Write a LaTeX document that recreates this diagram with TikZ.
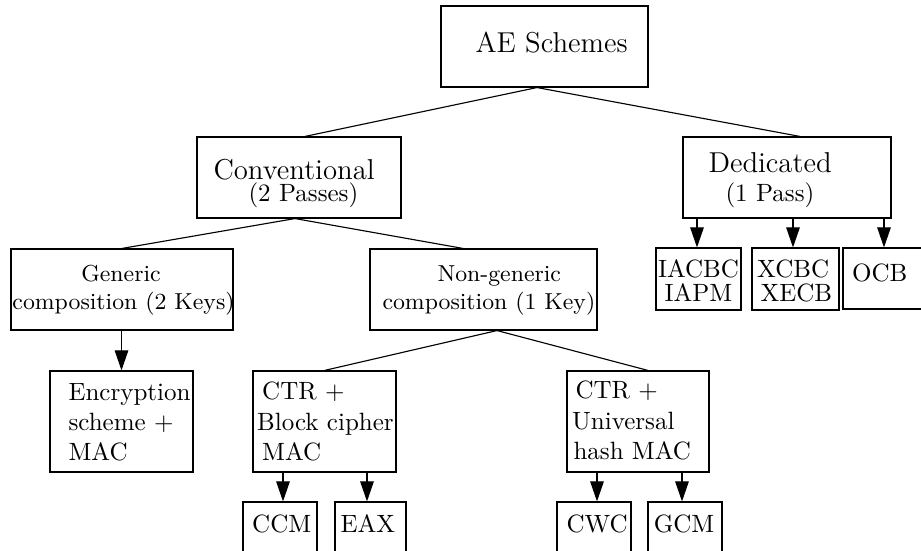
\documentclass[tikz,border=0pt]{standalone}
\usetikzlibrary{arrows.meta,fit}
\begin{document}
\begin{tikzpicture}[x=0.4pt,y=-0.4pt,
  bx/.style={draw, inner sep=0pt, line width=0.45pt},
  tx/.style={inner sep=0pt, anchor=base west, font=\fontsize{10}{12}\selectfont},
  txc/.style={inner sep=0pt, anchor=base, font=\fontsize{10}{12}\selectfont},
  big/.style={font=\fontsize{11.5}{14}\selectfont},
  sml/.style={font=\fontsize{9.25}{11}\selectfont},
  arr/.style={line width=0.45pt, -{Triangle[length=8pt,width=5.4pt]}},
  ln/.style={line width=0.45pt}]
\useasboundingbox (0,0) rectangle (921,551);
\clip (0,0) rectangle (921,551);
% boxes
\node[bx, fit={(441,6)(648,87)}] (ae) {};
\node[bx, fit={(197,137)(401,218)}] (conv) {};
\node[bx, fit={(683,137)(891,218)}] (ded) {};
\node[bx, fit={(11,249)(233,330)}] (gen) {};
\node[bx, fit={(370,249)(597,330)}] (ngen) {};
\node[bx, fit={(656,248)(741,310)}] (iacbc) {};
\node[bx, fit={(752,248)(839,310)}] (xcbc) {};
\node[bx, fit={(843,248)(925,309)}] (ocb) {};
\node[bx, fit={(50,371)(193,472)}] (enc) {};
\node[bx, fit={(253,371)(396,472)}] (ctrb) {};
\node[bx, fit={(567,371)(709,472)}] (ctru) {};
\node[bx, fit={(243,502)(317,570)}] (ccm) {};
\node[bx, fit={(335,502)(406,570)}] (eax) {};
\node[bx, fit={(557,502)(631,570)}] (cwc) {};
\node[bx, fit={(648,502)(722,570)}] (gcm) {};
% texts
\node[tx,big] (t-ae) at (475,53) {AE Schemes};
\node[tx,big] (t-conv1) at (213,180) {Conventional};
\node[tx] (t-conv2) at (248,202) {(2 Passes)};
\node[tx,big] (t-ded1) at (708,173) {Dedicated};
\node[tx] (t-ded2) at (725,202) {(1 Pass)};
\node[txc,sml] (t-gen1) at (121,282) {Generic};
\node[tx,sml] (t-gen2) at (12,310) {composition (2 Keys)};
\node[tx,sml] (t-ngen1) at (437,282) {Non-generic};
\node[tx,sml] (t-ngen2) at (382,310) {composition (1 Key)};
\node[tx] (t-enc1) at (68,401) {Encryption};
\node[tx] (t-enc2) at (68,431) {scheme +};
\node[tx] (t-enc3) at (68,461) {MAC};
\node[tx] (t-ctrb1) at (261.7,400) {CTR +};
\node[tx] (t-ctrb2) at (256.7,431) {Block cipher};
\node[tx] (t-ctrb3) at (261.7,461) {MAC};
\node[tx] (t-ctru1) at (575,399) {CTR +};
\node[tx] (t-ctru2) at (571.7,430) {Universal};
\node[tx] (t-ctru3) at (573,460) {hash MAC};
\node[txc] (t-iacbc1) at (698.5,278) {IACBC};
\node[txc] (t-iacbc2) at (698.5,302) {IAPM};
\node[tx] (t-xcbc1) at (756.7,278) {XCBC};
\node[tx] (t-xcbc2) at (760,302) {XECB};
\node[tx] (t-ocb) at (851.7,282) {OCB};
\node[tx] (t-ccm) at (251.7,533) {CCM};
\node[tx] (t-eax) at (340,533) {EAX};
\node[tx] (t-cwc) at (566,533) {CWC};
\node[tx] (t-gcm) at (653.3,533) {GCM};
% tree lines
\draw[ln] ([xshift=-3pt]ae.south) -- ([xshift=2.4pt]conv.north);
\draw[ln] ([xshift=-3pt]ae.south) -- ([xshift=5.2pt]ded.north);
\draw[ln] ([xshift=-1.6pt]conv.south) -- (gen.north);
\draw[ln] ([xshift=-1.6pt]conv.south) -- ([xshift=-8.2pt]ngen.north);
\draw[ln] ([xshift=5.4pt]ngen.south) -- (ctrb.north);
\draw[ln] ([xshift=5.4pt]ngen.south) -- ([xshift=4pt]ctru.north);
% arrows
\draw[arr] (gen.south -| enc.north) -- (enc.north);
\draw[arr] ([xshift=-0.6pt]ded.south -| iacbc.north) -- ([xshift=-0.6pt]iacbc.north);
\draw[arr] ([xshift=-1pt]ded.south -| xcbc.north) -- ([xshift=-1pt]xcbc.north);
\draw[arr] (ded.south -| ocb.north) -- (ocb.north);
\draw[arr] ([xshift=1.2pt]ctrb.south -| ccm.north) -- ([xshift=1.2pt]ccm.north);
\draw[arr] ([xshift=-1.4pt]ctrb.south -| eax.north) -- ([xshift=-1.4pt]eax.north);
\draw[arr] ([xshift=1.2pt]ctru.south -| cwc.north) -- ([xshift=1.2pt]cwc.north);
\draw[arr] ([xshift=-1.2pt]ctru.south -| gcm.north) -- ([xshift=-1.2pt]gcm.north);
\end{tikzpicture}
\end{document}
